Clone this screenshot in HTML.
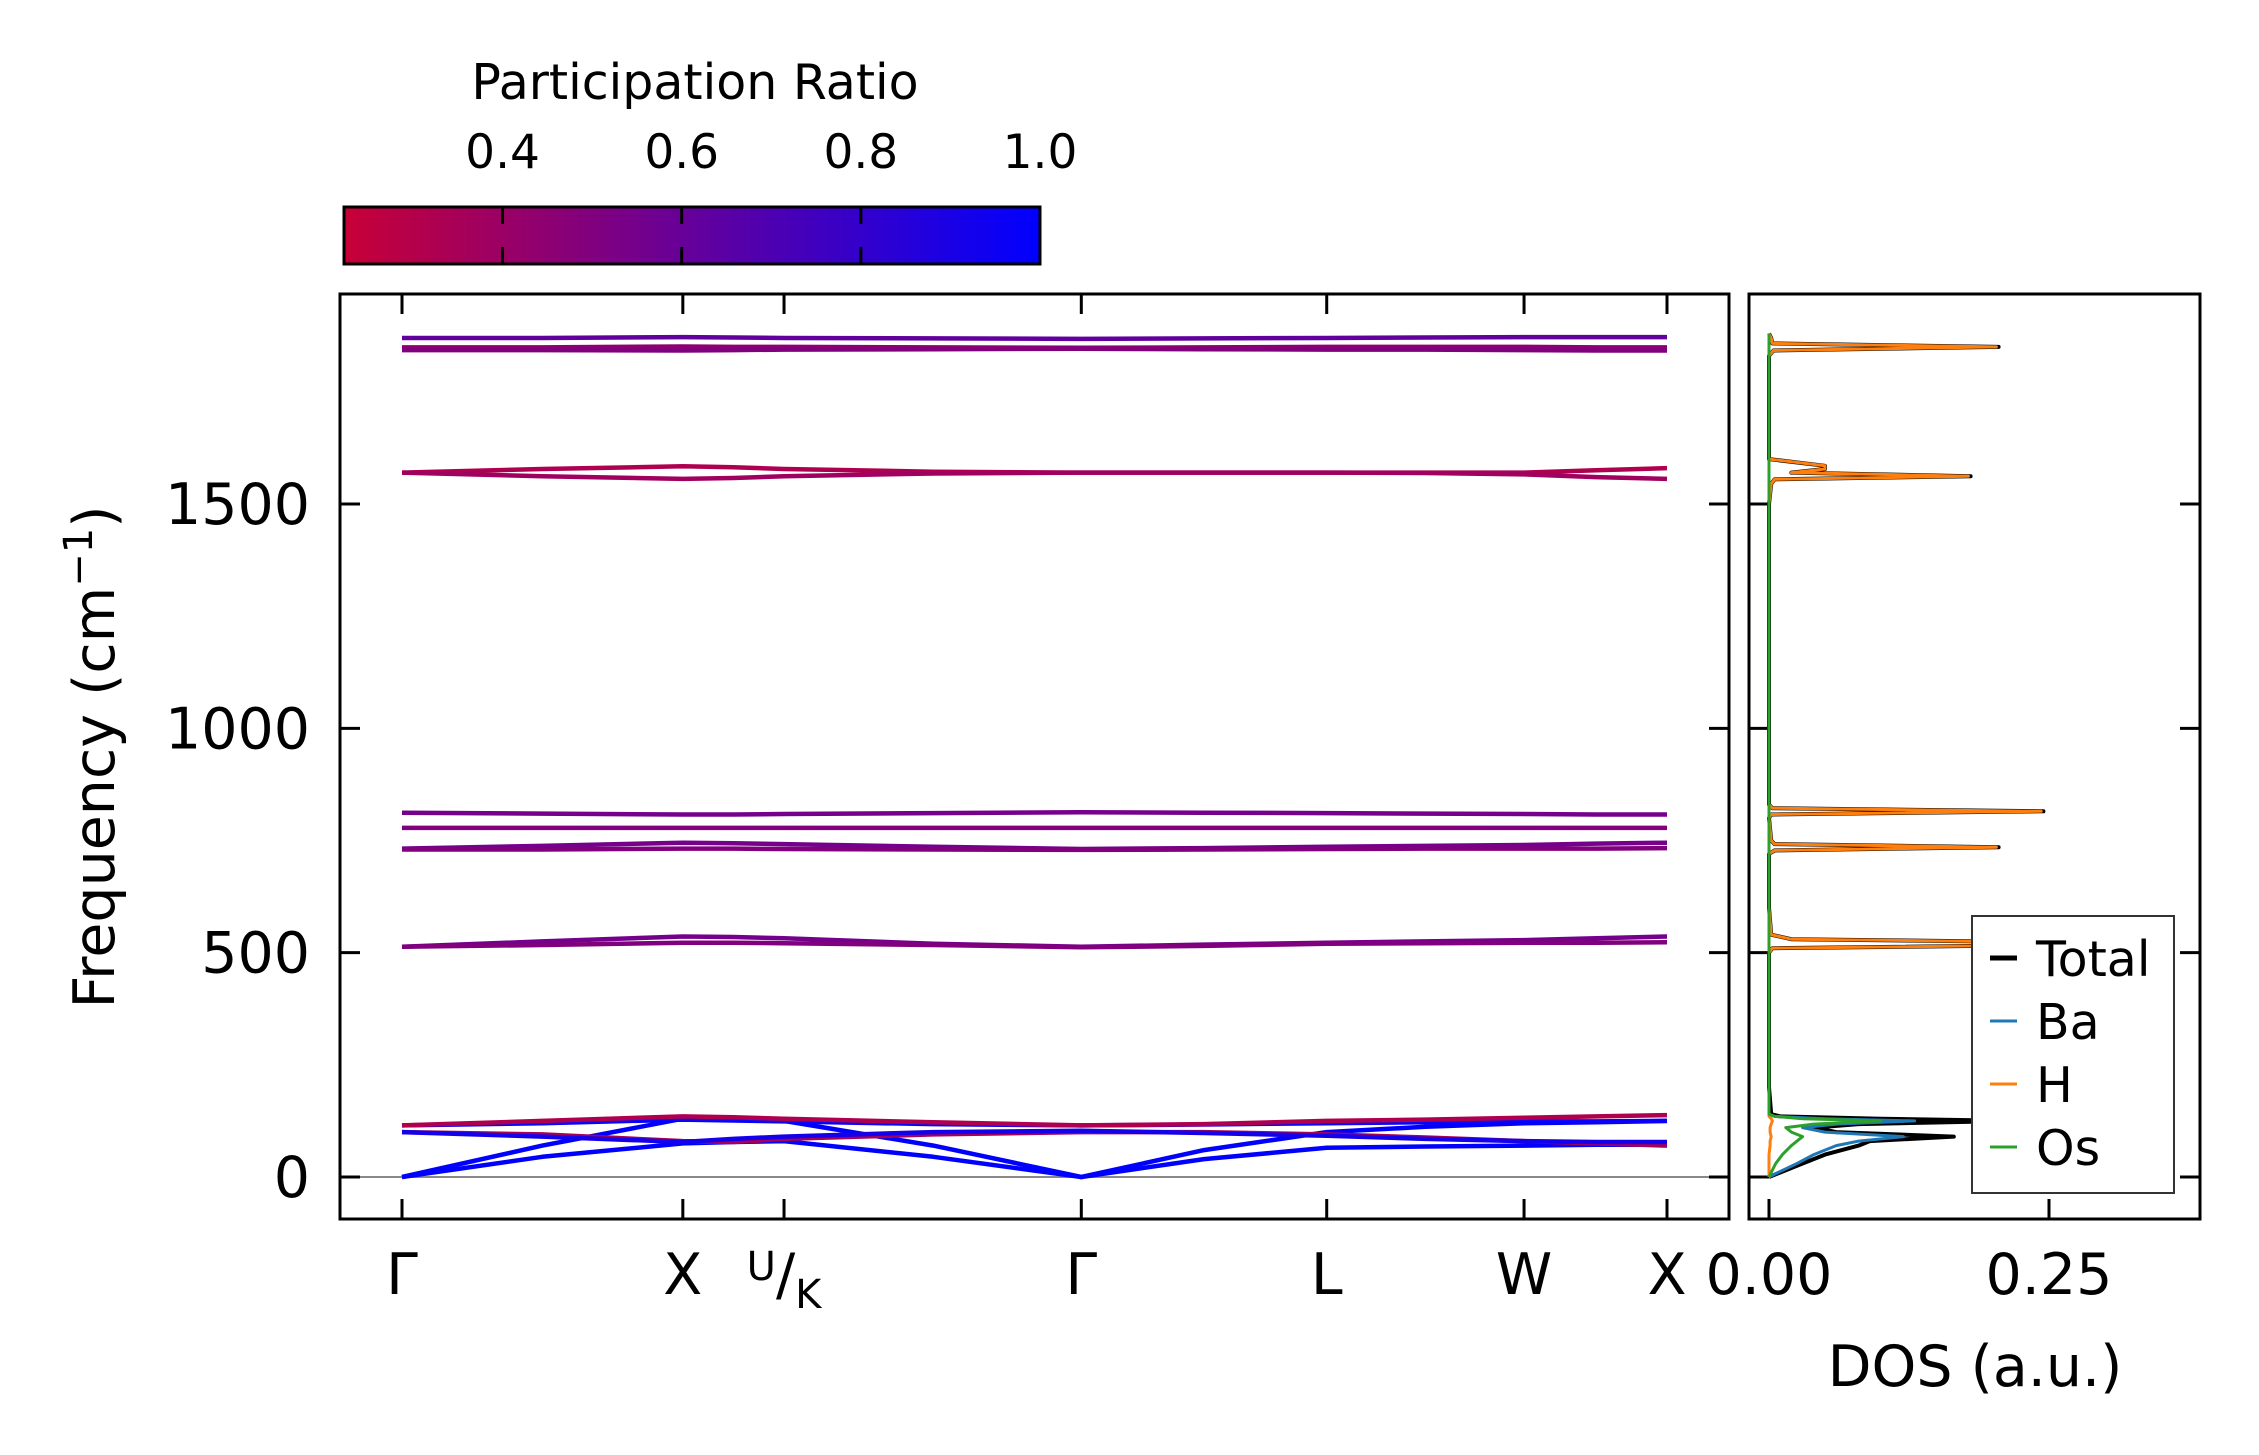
<!DOCTYPE html>
<html><head><meta charset="utf-8"><style>
body{margin:0;background:#fff}
svg{display:block;font-family:"DejaVu Sans","Liberation Sans",sans-serif}
</style></head><body>
<svg id="c" width="2259" height="1455" viewBox="0 0 2259 1455" xmlns="http://www.w3.org/2000/svg"></svg>
<script>
// ---- data ----
const kTickLabels = ["Γ","X","U/K","Γ","L","W","X"];
const kTickPos = [0, 0.222, 0.302, 0.537, 0.731, 0.887, 1];
const kSamples = [0, 0.111, 0.222, 0.262, 0.302, 0.42, 0.537, 0.634, 0.731, 0.809, 0.887, 0.944, 1];
const bandFreqs = [
 [1870,1870,1872,1871,1870,1869,1868,1869,1870,1871,1872,1872,1872],
 [1849,1849,1851,1850,1850,1849,1848,1849,1850,1850,1850,1849,1849],
 [1843,1843,1842,1843,1844,1845,1846,1845,1844,1844,1843,1842,1842],
 [1570,1578,1584,1582,1578,1572,1570,1570,1570,1570,1570,1575,1580],
 [1570,1562,1556,1558,1562,1568,1570,1570,1570,1569,1566,1560,1556],
 [812,810,808,808,809,811,813,812,811,810,809,808,808],
 [778,778,778,778,778,778,778,778,778,778,778,778,778],
 [732,738,745,744,742,736,731,733,736,738,740,743,745],
 [730,730,732,732,731,730,729,730,731,732,732,732,733],
 [513,525,536,535,532,520,513,518,522,525,528,532,536],
 [513,517,522,522,521,517,512,515,520,521,522,522,523],
 [0,45,75,78,80,45,0,40,65,68,70,72,72],
 [0,70,130,128,125,70,0,60,100,112,120,122,125],
 [115,120,128,126,124,118,115,117,120,122,124,124,125],
 [100,95,80,78,85,95,100,100,95,88,80,75,70],
 [115,125,135,133,130,122,115,118,125,128,132,135,138],
 [100,90,78,85,90,100,103,98,92,85,80,78,78]
];
const bandPR = [0.62,0.45,0.5,0.32,0.38,0.55,0.5,0.55,0.5,0.55,0.5,1.0,1.0,0.97,0.35,0.32,0.92];
const yTicks = [0,500,1000,1500];
const cbTicks = [0.4,0.6,0.8,1.0];
const dosFreq = [0,10,30,50,70,80,90,100,110,118,125,130,135,140,200,500,510,520,530,540,600,720,728,735,742,750,800,808,815,822,830,1500,1545,1555,1562,1570,1578,1585,1600,1830,1842,1850,1858,1870,1880];
const dosTotal = [0,0.01,0.03,0.05,0.08,0.09,0.165,0.06,0.04,0.08,0.22,0.1,0.01,0.002,0, 0,0.003,0.36,0.02,0.002,0, 0,0.005,0.205,0.005,0.002,0, 0.002,0.245,0.003,0, 0,0.002,0.005,0.18,0.02,0.05,0.05,0, 0,0.004,0.205,0.003,0.002,0];
const dosBa = [0,0.008,0.025,0.04,0.06,0.08,0.12,0.05,0.03,0.06,0.13,0.05,0.005,0,0, 0,0,0,0,0,0, 0,0,0,0,0,0, 0,0,0,0, 0,0,0,0,0,0,0,0, 0,0,0,0,0,0];
const dosH = [0,0,0,0,0.001,0.001,0.002,0.001,0.001,0.002,0.003,0.002,0,0,0, 0,0.003,0.358,0.02,0.002,0, 0,0.005,0.203,0.005,0.002,0, 0.002,0.243,0.003,0, 0,0.002,0.005,0.178,0.02,0.05,0.05,0, 0,0.004,0.203,0.003,0.002,0];
const dosOs = [0,0.002,0.006,0.012,0.02,0.025,0.03,0.02,0.015,0.04,0.1,0.03,0.005,0,0, 0,0,0,0,0,0, 0,0,0,0,0,0, 0,0,0,0, 0,0,0,0,0,0,0,0, 0,0,0,0,0,0];
const dosTicks = [0,0.25];
const legendNames = ["Total","Ba","H","Os"];
// ---- layout ----
const svg=document.getElementById('c');
const NS="http://www.w3.org/2000/svg";
const FS=57;
const AX={l:340,r:1729,t:294,b:1219}, DX={l:1749,r:2200};
const yMin=-93.6,yMax=1968;
const yS=f=>AX.b-(f-yMin)/(yMax-yMin)*(AX.b-AX.t);
const xS=k=>402+k*(1667-402);
const dS=d=>1769+d*1120;
const CB={l:344,r:1040,t:207,b:264,min:0.223,max:1.0};
const cbS=v=>CB.l+(v-CB.min)/(CB.max-CB.min)*(CB.r-CB.l);
function cmap(v){const t=Math.max(0,Math.min(1,(v-0.223)/(0.777)));return `rgb(${Math.round(200*(1-t))},0,${Math.round(55+200*t)})`;}
function el(tag,attrs,parent){const e=document.createElementNS(NS,tag);for(const k in attrs)e.setAttribute(k,attrs[k]);(parent||svg).appendChild(e);return e;}
function txt(s,x,y,size,anchor,parent){const e=el('text',{x:x,y:y,'font-size':size,'text-anchor':anchor||'middle',fill:'#000'},parent);e.textContent=s;return e;}

// colorbar
const defs=el('defs',{});
const lg=el('linearGradient',{id:'cbg',x1:'0',x2:'1',y1:'0',y2:'0'},defs);
el('stop',{offset:'0','stop-color':cmap(CB.min)},lg);
el('stop',{offset:'1','stop-color':cmap(1)},lg);
const cbg=el('g',{});


el('rect',{x:CB.l,y:CB.t,width:CB.r-CB.l,height:CB.b-CB.t,fill:'url(#cbg)',stroke:'#000','stroke-width':3},cbg);
cbTicks.forEach(v=>{const x=cbS(v);
 el('line',{x1:x,x2:x,y1:CB.t,y2:CB.t+17,stroke:'#000','stroke-width':3},cbg);
 el('line',{x1:x,x2:x,y1:CB.b-17,y2:CB.b,stroke:'#000','stroke-width':3},cbg);
 const t=txt(v.toFixed(1),x,168,47,'middle',cbg);
 
 
});
const cbt=txt('Participation Ratio',695,99,49,'middle');



// main axes
const clip=el('clipPath',{id:'mc'},defs);el('rect',{x:AX.l,y:AX.t,width:AX.r-AX.l,height:AX.b-AX.t},clip);
const plot=el('g',{'clip-path':'url(#mc)'});


const zl=el('line',{x1:AX.l,x2:AX.r,y1:yS(0),y2:yS(0),stroke:'#888','stroke-width':2},plot);


bandFreqs.forEach((fr,i)=>{
 const d=fr.map((f,j)=>(j?'L':'M')+xS(kSamples[j]).toFixed(1)+','+yS(f).toFixed(1)).join(' ');
 const p=el('path',{d:d,fill:'none',stroke:cmap(bandPR[i]),'stroke-width':4.5,'stroke-linejoin':'round'},plot);
 
 
});
const frame=el('rect',{x:AX.l,y:AX.t,width:AX.r-AX.l,height:AX.b-AX.t,fill:'none',stroke:'#000','stroke-width':3});


kTickPos.forEach((k,i)=>{const x=xS(k);
 el('line',{x1:x,x2:x,y1:AX.b,y2:AX.b-20,stroke:'#000','stroke-width':3});
 el('line',{x1:x,x2:x,y1:AX.t,y2:AX.t+20,stroke:'#000','stroke-width':3});
 let t;
 if(kTickLabels[i]==='U/K'){
  t=el('text',{x:x,y:1294,'font-size':FS,'text-anchor':'middle'});
  const a=el('tspan',{'font-size':40,dy:-14},t);a.textContent='U';
  const b=el('tspan',{dy:14},t);b.textContent='/';
  const c=el('tspan',{'font-size':40,dy:14},t);c.textContent='K';
 } else t=txt(kTickLabels[i],x,1294,FS,'middle');
 
 
});
yTicks.forEach(v=>{const y=yS(v);
 el('line',{x1:AX.l,x2:AX.l+20,y1:y,y2:y,stroke:'#000','stroke-width':3});
 el('line',{x1:AX.r,x2:AX.r-20,y1:y,y2:y,stroke:'#000','stroke-width':3});
 el('line',{x1:DX.l,x2:DX.l+20,y1:y,y2:y,stroke:'#000','stroke-width':3});
 el('line',{x1:DX.r,x2:DX.r-20,y1:y,y2:y,stroke:'#000','stroke-width':3});
 const t=txt(String(v),AX.l-30,y+20,FS,'end');
 
 
});
const yl=txt('Frequency (cm',0,0,FS,'middle');
const sup=el('tspan',{'font-size':40,dy:-22},yl);sup.textContent='−1';
const cl=el('tspan',{dy:22},yl);cl.textContent=')';
yl.setAttribute('transform','translate(114,757) rotate(-90)');



// DOS axes
const clip2=el('clipPath',{id:'dc'},defs);el('rect',{x:DX.l,y:AX.t,width:DX.r-DX.l,height:AX.b-AX.t},clip2);
const dg=el('g',{'clip-path':'url(#dc)'});


const series=[[dosTotal,'#000',4],[dosBa,'#1f77b4',3],[dosH,'#ff7f0e',3],[dosOs,'#2ca02c',3]];
series.forEach((s,i)=>{
 const d=s[0].map((v,j)=>(j?'L':'M')+dS(v).toFixed(1)+','+yS(dosFreq[j]).toFixed(1)).join(' ');
 const p=el('path',{d:d,fill:'none',stroke:s[1],'stroke-width':s[2],'stroke-linejoin':'round'},dg);
 
 
});
const df=el('rect',{x:DX.l,y:AX.t,width:DX.r-DX.l,height:AX.b-AX.t,fill:'none',stroke:'#000','stroke-width':3});


dosTicks.forEach(v=>{const x=dS(v);
 el('line',{x1:x,x2:x,y1:AX.b,y2:AX.b-20,stroke:'#000','stroke-width':3});
 const t=txt(v.toFixed(2),x,1294,FS,'middle');
 
 
});
const dl=txt('DOS (a.u.)',1975,1386,FS,'middle');



// legend
const lgG=el('g',{});


el('rect',{x:1972,y:916,width:202,height:277,fill:'#fff',stroke:'#333','stroke-width':2},lgG);
legendNames.forEach((n,i)=>{const y=958+i*63;
 const g=el('g',{},lgG);
 
 
 el('line',{x1:1990,x2:2017,y1:y,y2:y,stroke:series[i][1],'stroke-width':i?3:5},g);
 txt(n,2036,y+18,49,'start',g);
});
</script>
</body></html>
